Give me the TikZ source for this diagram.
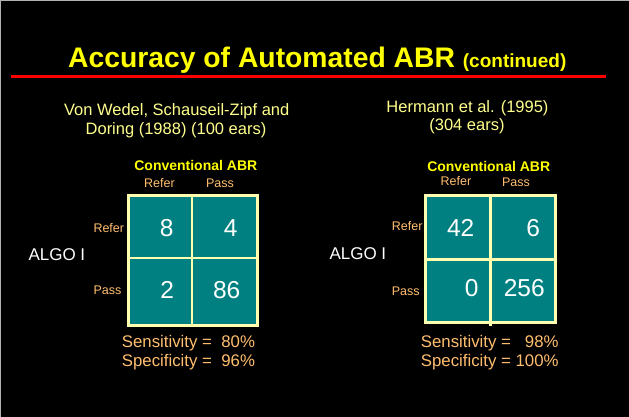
\documentclass[tikz,border=0pt]{standalone}
\usepackage{fontspec}
\setmainfont{Liberation Sans}
\usetikzlibrary{positioning}
\definecolor{slidebg}{RGB}{0,0,0}
\definecolor{ttlyellow}{RGB}{255,255,0}
\definecolor{subyellow}{RGB}{255,255,140}
\definecolor{lblorange}{RGB}{255,190,110}
\definecolor{cellteal}{RGB}{0,128,128}
\definecolor{gridcream}{RGB}{255,255,175}

\begin{document}
\begin{tikzpicture}[x=1pt, y=-1pt,
    subttl/.style={text=subyellow, font=\fontsize{16.5}{19}\selectfont, anchor=base, inner sep=0pt},
    convttl/.style={text=ttlyellow, font=\fontsize{14}{16}\selectfont\bfseries, anchor=base, inner sep=0pt},
    axislbl/.style={text=lblorange, font=\fontsize{12.5}{14}\selectfont, inner sep=0pt},
    cellnum/.style={text=white, font=\fontsize{24.5}{26}\selectfont, anchor=base, inner sep=0pt},
    algolbl/.style={text=white, font=\fontsize{17}{19}\selectfont, anchor=base west, inner sep=0pt},
    ratelbl/.style={text=lblorange, font=\fontsize{16.8}{19}\selectfont, anchor=base west, inner sep=0pt},
    gridln/.style={draw=gridcream, line width=2.8pt}]
        % Slide background
        \fill[slidebg] (0,0) rectangle (629,417);
        \useasboundingbox (0,0) rectangle (629,417);
        \draw[gray!60, line width=1.5pt] (0,417) -- (0,0) -- (629,0);

        % Title and rule
        \node[text=ttlyellow, anchor=base west, inner sep=0pt] (title) at (68,68)
            {\fontsize{28.3}{30}\selectfont\bfseries Accuracy of Automated ABR \fontsize{19}{20}\selectfont(continued)};
        \draw[red, line width=2.5pt] (11,76.7) -- (605.7,76.7);

        % Left study
        \node[subttl] (subLa) at (176.7,116) {Von Wedel, Schauseil-Zipf and};
        \node[subttl] (subLb) at (176,135) {Doring (1988) (100 ears)};
        \node[convttl] (convL) at (195.8,170.7) {Conventional ABR};
        \node[axislbl, anchor=base] (colReferL) at (159.5,187.3) {Refer};
        \node[axislbl, anchor=base] (colPassL) at (220,187.3) {Pass};
        \node[axislbl, anchor=base west] (rowReferL) at (93.3,232.3) {Refer};
        \node[axislbl, anchor=base west] (rowPassL) at (93.3,294.3) {Pass};
        \node[algolbl] (algoL) at (28.3,260.7) {ALGO I};

        % Left 2x2 table
        \fill[cellteal] (128.8,195.8) rectangle (257.8,325.2);
        \draw[gridln] (128.8,195.8) rectangle (257.8,325.2);
        \draw[gridln] (192,195.8) -- (192,325.2);
        \draw[gridln] (128.8,258) -- (257.8,258);
        \node[cellnum] (nLa) at (166.7,236.2) {8};
        \node[cellnum] (nLb) at (230.7,236.2) {4};
        \node[cellnum] (nLc) at (167.3,298.5) {2};
        \node[cellnum] (nLd) at (226.7,298.5) {86};

        \node[ratelbl] (sensL) at (121.7,347.3) {Sensitivity =\ \ 80\%};
        \node[ratelbl] (specL) at (121.7,366.7) {Specificity =\ \ 96\%};

        % Right study
        \node[subttl] (subRa) at (467.5,112.7) {Hermann et al. (1995)};
        \node[subttl] (subRb) at (467,131) {(304 ears)};
        \node[convttl] (convR) at (488.7,171.7) {Conventional ABR};
        \node[axislbl, anchor=base] (colReferR) at (456,185) {Refer};
        \node[axislbl, anchor=base] (colPassR) at (516,186.7) {Pass};
        \node[axislbl, anchor=base west] (rowReferR) at (391.7,230) {Refer};
        \node[axislbl, anchor=base west] (rowPassR) at (391.7,295.7) {Pass};
        \node[algolbl] (algoR) at (329.3,259.3) {ALGO I};

        % Right 2x2 table
        \fill[cellteal] (425.8,195.2) rectangle (555.2,322.5);
        \draw[gridln] (425.8,195.2) rectangle (555.2,322.5);
        \draw[gridln] (490.7,195.2) -- (490.7,325.7);
        \draw[gridln] (425.8,259.3) -- (555.2,259.3);
        \node[cellnum] (nRa) at (460.7,236.8) {42};
        \node[cellnum] (nRb) at (533.3,236.8) {6};
        \node[cellnum] (nRc) at (471.7,296.8) {0};
        \node[cellnum] (nRd) at (524.3,296.8) {256};

        \node[ratelbl] (sensR) at (420.7,347.3) {Sensitivity = \phantom{1}98\%};
        \node[ratelbl] (specR) at (420.7,366.7) {Specificity = 100\%};
    \end{tikzpicture}
\end{document}
